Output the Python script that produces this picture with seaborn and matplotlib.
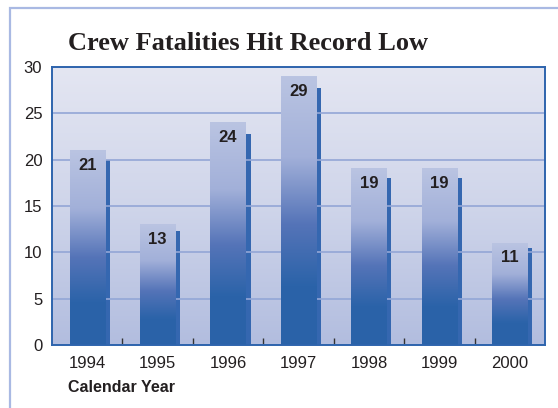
import numpy as np
import matplotlib
matplotlib.use("Agg")
import matplotlib.pyplot as plt
from matplotlib.colors import LinearSegmentedColormap
from matplotlib.patches import Rectangle
import seaborn as sns

# data
years = ["1994", "1995", "1996", "1997", "1998", "1999", "2000"]
fatalities = [21, 13, 24, 29, 19, 19, 11]
# height of the dark "side" strip drawn behind each bar (perspective effect)
side_heights = [20, 12.3, 22.8, 27.7, 18, 18, 10.5]
yticks = [0, 5, 10, 15, 20, 25, 30]

sns.set_style("white")
plt.rcParams["font.family"] = ["Liberation Sans", "DejaVu Sans"]

text_col = "#231f20"
spine_col = "#2e64ad"
grid_col = "#93a6d6"

fig = plt.figure(figsize=(5.58, 4.08), dpi=100)
ax = fig.add_axes([52 / 558, 1 - 345 / 408, 493 / 558, 278 / 408])

# outer light blue frame (runs off the right and bottom edges)
fig.patches.append(Rectangle((10 / 558, -0.2), 2.0, 1 - 8 / 408 + 0.2,
                             transform=fig.transFigure, fill=False,
                             edgecolor="#a9b9e3", lw=1.6, zorder=0))

# background gradient of the plot area
bg_cmap = LinearSegmentedColormap.from_list("bg", ["#b2bddf", "#cfd5ea", "#e4e6f2"])
grad = np.linspace(0, 1, 256).reshape(-1, 1)
ax.imshow(grad, cmap=bg_cmap, origin="lower", aspect="auto",
          extent=[-0.5, 6.5, 0, 30], zorder=0)

# front bars via seaborn, then filled with a vertical gradient
sns.barplot(x=years, y=fatalities, width=0.5, color="#2b63a9",
            linewidth=0, ax=ax, zorder=3)
front_bars = list(ax.patches)

bar_cmap = LinearSegmentedColormap.from_list(
    "bar", [(0, "#2a62a8"), (0.22, "#2b63a9"), (0.45, "#5574b8"),
            (0.7, "#a2b0d9"), (1, "#bac4e2")])
for p, v in zip(front_bars, fatalities):
    x0 = p.get_x()
    w = p.get_width()
    ax.imshow(grad, cmap=bar_cmap, origin="lower", aspect="auto",
              extent=[x0, x0 + w, 0, v], zorder=3)
    p.set_visible(False)
    ax.text(x0 + w / 2, v - 1.6, str(v), ha="center", va="center",
            fontsize=12, fontweight="bold", color=text_col, zorder=5)

# dark side strips, just right of each front bar
xs = np.arange(len(years))
ax.bar(xs + 0.25, side_heights, width=0.07, align="edge",
       color="#3567b0", linewidth=0, zorder=2)

ax.set_xlim(-0.5, 6.5)
ax.set_ylim(0, 30)
ax.set_yticks(yticks)
ax.yaxis.grid(True, color=grid_col, lw=1.2, zorder=1)
ax.set_axisbelow(False)
for g in ax.get_ygridlines():
    g.set_zorder(1)

ax.tick_params(axis="y", length=0, pad=7, labelsize=12, labelcolor=text_col)
ax.tick_params(axis="x", which="major", bottom=True, length=0, pad=8,
               labelsize=12, labelcolor=text_col)
ax.set_xticks(xs[:-1] + 0.5, minor=True)
ax.tick_params(axis="x", which="minor", bottom=True, direction="in",
               length=5, width=1, color="#333333")
ax.set_xlabel("")
ax.set_ylabel("")

for s in ax.spines.values():
    s.set_color(spine_col)
    s.set_linewidth(1.4)
    s.set_zorder(6)

fig.text(68 / 558, 1 - 44 / 408, "Crew Fatalities Hit Record Low",
         family=["Liberation Serif"], fontweight="bold", fontsize=19,
         color=text_col, va="center", ha="left")
fig.text(68 / 558, 1 - 388 / 408, "Calendar Year", fontweight="bold",
         fontsize=11.5, color=text_col, va="center", ha="left")

fig.savefig("out.png", dpi=100)
